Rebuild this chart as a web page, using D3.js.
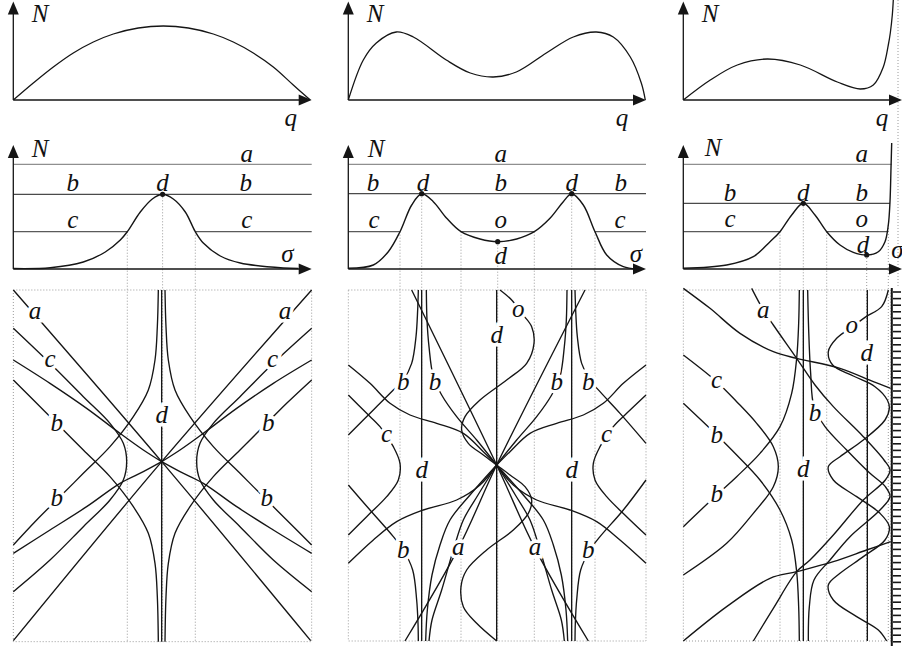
<!DOCTYPE html>
<html>
<head>
<meta charset="utf-8">
<script src="https://d3js.org/d3.v7.min.js"></script>
<style>
  body { margin: 0; background: #fff; }
  svg text { font-family: "Liberation Serif", "DejaVu Serif", serif; font-style: italic; font-size: 25px; fill: #111; }
</style>
</head>
<body>
<svg width="902" height="646"></svg>
<script>
  // ---- top row: N(q), panel units (q from axis corner, N upward) ----
  const topCurve1 = [[0,0],[20,17],[40,33],[60,47],[80,58],[100,66],[125,72],[150,74],[175,72],[200,66],[220,58],[240,47],[260,33],[280,15],[297,0]];
  const topCurve2 = [[0,0],[15,40],[28,57],[48,68],[65,63],[98,40],[122,27],[145,23],[168,28],[198,47],[225,63],[248,68],[265,63],[282,43],[293,17],[297,0]];
  const topCurve3 = [[0,0],[27,20],[54,35],[84,41],[117,35],[154,18],[177,11],[190,15],[200,33],[205,55],[207,67],[209,85],[210,100]];
  const topLabels1 = [["N",26.7,78.3],["q",277.4,-26]];
  const topLabels2 = [["N",26.7,78.3],["q",273.7,-26]];
  const topLabels3 = [["N",26.7,78],["q",198.7,-26]];

  // ---- middle row: N(sigma) with levels a, b, c ----
  const midCurve1 = [[0,0.5],[37,1.3],[70,7],[92,17],[107,29],[114,37.3],[127,57],[139,70],[149.3,74.7],[160,70],[172,57],[182,37.3],[190,26],[207,13],[227,6],[270,1],[285,0.5]];
  const midCurve2 = [[0,0.7],[25,4],[40,17.3],[51.7,37.3],[63.4,64],[73.4,75.3],[85,67.3],[98.4,50.7],[112.7,37.3],[131.7,30],[149.4,27.3],[168.4,30],[186,37.3],[201.7,50.7],[215,67.3],[223.4,75.3],[235,64],[246.7,37.3],[258.4,14],[275,2.3],[288.4,0]];
  const midCurve3 = [[0,0.7],[43.4,4],[70,12.3],[86.7,27.3],[96.7,37.3],[108.4,54],[120,65.7],[131.7,54],[143.4,37.3],[156.7,24],[170,16.7],[183.4,14],[195,17.3],[201.7,27.3],[205,44],[206.7,67.3],[207.7,100.7],[208.4,126]];
  const levels1 = [104.7, 74.7, 37.3];   // a, b, c
  const levels2 = [104.7, 75.3, 37.3];
  const levels3 = [104.7, 65.7, 37.3];
  const levelEnds1 = [298.4, 298.4];
  const levelEnds2 = [297.7, 297.7];
  const levelEnds3 = [208.4, 206.7];
  const cSegments1 = [[0,114],[182,298.4]];
  const cSegments2 = [[0,51.7],[112.7,186],[246.7,297.7]];
  const cSegments3 = [[0,96.7],[143.4,205]];
  const dots1 = [[149.3,74.7]];
  const dots2 = [[73.4,75.3],[223.4,75.3],[149.4,27.3]];
  const dots3 = [[120,65.7],[183.4,14]];
  const drops1 = [[114,37.3],[149.3,74.7],[182,37.3]];
  const drops2 = [[51.7,37.3],[73.4,75.3],[112.7,37.3],[149.4,27.3],[186,37.3],[223.4,75.3],[246.7,37.3]];
  const drops3 = [[96.7,37.3],[120,65.7],[143.4,37.3],[183.4,14],[205,44]];
  const midLabels1 = [["N",26.7,112.3],["a",233.4,107],["b",59.4,78],["d",149.2,78],["b",232.5,78],["c",59.4,41.3],["c",233.4,41.3],["σ",274.2,7.3]];
  const midLabels2 = [["N",27.7,112.3],["a",152.5,107],["b",24.7,78],["d",74.7,78],["b",152.5,78],["d",223.4,78],["b",272.5,78],["c",25.7,41.3],["o",152.5,41.3],["c",271.7,41.3],["d",152.5,4.7],["σ",287.7,7.3]];
  const midLabels3 = [["N",29.7,113],["a",178.4,107.3],["b",46.7,68],["d",120,68],["b",178.4,68],["c",46.7,42.3],["o",178.4,42.3],["d",179.7,16.3],["σ",214,11]];

  // ---- bottom row: trajectories, panel units (s across, t down) ----
  const frame1 = [40, 935, 30, 1085];
  const frame2 = [55, 948, 30, 1083];
  const frame3 = [70, 692, 30, 1083];

  const paths1 = [
    [[485,30],[485,1085]],
    [[40,30],[485,545],[932,1082]],
    [[935,30],[485,545],[40,1082]],
    [[40,300],[110,370],[170,430],[250,510],[330,590],[400,680],[445,760],[465,850],[472,950],[475,1085]],
    [[40,795],[110,720],[170,660],[250,580],[330,500],[400,410],[445,330],[465,240],[472,140],[475,30]],
    [[935,300],[860,370],[800,430],[720,510],[640,590],[570,680],[525,760],[505,850],[498,950],[495,1085]],
    [[935,795],[860,720],[800,660],[720,580],[640,500],[570,410],[525,330],[505,240],[498,140],[495,30]],
    [[40,145],[150,250],[250,350],[330,430],[370,490],[380,545],[370,600],[330,660],[250,740],[150,840],[40,935]],
    [[935,145],[820,250],[720,350],[640,430],[600,490],[590,545],[600,600],[640,660],[720,740],[820,840],[935,935]],
    [[40,240],[150,310],[260,385],[360,460],[430,510],[485,545]],
    [[40,820],[150,750],[260,680],[360,610],[430,575],[485,545]],
    [[935,240],[820,310],[710,385],[610,460],[540,510],[485,545]],
    [[935,820],[820,750],[710,680],[610,610],[540,575],[485,545]]
  ];
  const paths2 = [
    [[275,30],[275,1083]],
    [[500,30],[500,1083]],
    [[725,30],[725,1083]],
    [[245,30],[500,555],[615,805],[775,1083]],
    [[765,30],[500,555],[385,805],[225,1083]],
    [[510,30],[545,60],[575,100],[605,140],[612,190],[590,250],[530,300],[450,360],[405,410],[395,450],[415,490],[460,525],[500,555],[540,585],[585,620],[605,660],[595,700],[550,750],[470,810],[410,870],[393,920],[400,980],[440,1030],[500,1083]],
    [[55,345],[110,400],[150,440],[190,500],[210,550],[205,600],[170,650],[110,710],[55,765]],
    [[948,345],[890,400],[850,440],[810,500],[790,550],[795,600],[830,650],[890,710],[948,765]],
    [[55,465],[130,390],[190,330],[220,300],[245,250],[258,170],[263,90],[265,30]],
    [[55,615],[120,690],[190,770],[220,810],[248,870],[260,960],[264,1030],[265,1083]],
    [[948,490],[870,400],[810,335],[780,300],[755,250],[742,170],[737,90],[735,30]],
    [[948,600],[880,690],[810,770],[780,810],[752,870],[740,960],[736,1030],[735,1083]],
    [[500,555],[440,480],[380,410],[335,345],[310,290],[297,200],[291,120],[289,30]],
    [[500,555],[560,480],[620,410],[665,345],[690,290],[703,200],[709,120],[711,30]],
    [[500,555],[420,645],[360,720],[330,795],[306,885],[292,990],[287,1083]],
    [[500,555],[444,645],[400,720],[370,810],[335,930],[306,1020],[297,1083]],
    [[500,555],[580,645],[640,720],[670,795],[694,885],[708,990],[713,1083]],
    [[500,555],[556,645],[600,720],[630,810],[665,930],[694,1020],[703,1083]],
    [[55,255],[120,310],[180,370],[240,405],[320,430],[400,460],[460,515],[500,555]],
    [[55,850],[130,780],[200,725],[280,690],[380,660],[450,615],[500,555]],
    [[948,255],[880,310],[820,370],[760,405],[680,430],[600,460],[540,515],[500,555]],
    [[948,850],[870,780],[800,725],[720,690],[620,660],[550,615],[500,555]]
  ];
  const paths3 = [
    [[430,30],[430,1083]],
    [[622,30],[622,1083]],
    [[70,25],[150,85],[240,160],[340,215],[410,235],[540,265],[640,305],[692,325]],
    [[275,25],[310,90],[340,135],[410,235],[465,315],[520,380],[610,470],[672,540],[690,570],[676,600],[610,660],[520,765],[450,840],[410,875],[340,985],[280,1083]],
    [[443,30],[446,150],[452,280],[462,380],[495,440],[560,510],[630,580],[676,620],[690,650],[660,690],[570,770],[510,840],[462,900],[448,980],[445,1083]],
    [[70,225],[170,305],[230,365],[290,430],[340,500],[355,560],[340,620],[280,700],[200,790],[70,885]],
    [[70,370],[170,465],[230,525],[300,600],[360,690],[395,780],[410,875],[416,980],[418,1083]],
    [[70,740],[170,645],[230,590],[300,520],[360,440],[395,340],[410,235],[416,130],[418,30]],
    [[70,1083],[200,980],[330,895],[410,875],[520,845],[620,810],[692,785]],
    [[685,30],[665,80],[615,112],[578,140],[530,175],[505,215],[518,255],[580,288],[645,320],[682,360],[688,385],[675,420],[610,480],[540,530],[505,560],[520,600],[590,650],[660,700],[688,740],[675,780],[610,830],[540,880],[505,915],[520,960],[590,1010],[655,1050],[680,1083]]
  ];
  const botLabels1 = [["a",105,116],["a",855,116],["c",150,261],["c",818,261],["b",170,454],["b",805,454],["b",170,679],["b",800,679],["d",485,429]];
  const botLabels2 = [["o",565,111],["d",500,189],["b",220,329],["b",315,329],["b",680,329],["b",775,329],["c",170,486],["c",830,486],["d",275,594],["d",725,594],["b",220,834],["a",385,826],["a",615,826],["b",775,834]];
  const botLabels3 = [["a",310,113],["o",575,158],["d",620,242],["c",170,323],["b",465,424],["b",170,489],["d",430,592],["b",170,666]];

  // ---- layout ----
  const svg = d3.select("svg");
  const ink = "#151515";
  const colX = [13.3, 348.3, 683.3];
  const axisTip = [311.7, 646, 902];

  const panels = [
    { top: topCurve1, topLab: topLabels1, mid: midCurve1, lev: levels1, ends: levelEnds1, cseg: cSegments1, dots: dots1, drops: drops1, midLab: midLabels1, frame: frame1, paths: paths1, botLab: botLabels1 },
    { top: topCurve2, topLab: topLabels2, mid: midCurve2, lev: levels2, ends: levelEnds2, cseg: cSegments2, dots: dots2, drops: drops2, midLab: midLabels2, frame: frame2, paths: paths2, botLab: botLabels2 },
    { top: topCurve3, topLab: topLabels3, mid: midCurve3, lev: levels3, ends: levelEnds3, cseg: cSegments3, dots: dots3, drops: drops3, midLab: midLabels3, frame: frame3, paths: paths3, botLab: botLabels3 }
  ];

  function arrowAxes(g, x0, y0, xTip, yTip) {
    g.append("line").attr("x1", x0).attr("y1", y0).attr("x2", xTip - 8).attr("y2", y0)
      .attr("stroke", ink).attr("stroke-width", 1.3);
    g.append("line").attr("x1", x0).attr("y1", y0).attr("x2", x0).attr("y2", yTip + 8)
      .attr("stroke", ink).attr("stroke-width", 1.3);
    g.append("path").attr("d", `M${xTip},${y0}L${xTip - 13},${y0 - 5.5}L${xTip - 13},${y0 + 5.5}Z`).attr("fill", ink);
    g.append("path").attr("d", `M${x0},${yTip}L${x0 - 5.5},${yTip + 13}L${x0 + 5.5},${yTip + 13}Z`).attr("fill", ink);
  }

  const dotted = sel => sel.attr("stroke", "#9a9a9a").attr("stroke-width", 1).attr("stroke-dasharray", "1,2");

  panels.forEach((p, i) => {
    const g = svg.append("g");
    const x0 = colX[i];

    // top
    const xt = d3.scaleLinear().domain([0, 300]).range([x0, x0 + 300]);
    const yt = d3.scaleLinear().domain([0, 100]).range([100, 0]);
    const lineT = d3.line().x(d => xt(d[0])).y(d => yt(d[1])).curve(d3.curveCatmullRom.alpha(0.5));

    // middle
    const xm = d3.scaleLinear().domain([0, 300]).range([x0, x0 + 300]);
    const ym = d3.scaleLinear().domain([0, 124]).range([269, 145]);
    const lineM = d3.line().x(d => xm(d[0])).y(d => ym(d[1])).curve(d3.curveCatmullRom.alpha(0.5));

    // bottom
    const xb = d3.scaleLinear().domain([0, 990]).range([i * 330, i * 330 + 330]);
    const yb = d3.scaleLinear().domain([0, 1110]).range([280, 650]);
    const lineB = d3.line().x(d => xb(d[0])).y(d => yb(d[1])).curve(d3.curveCatmullRom.alpha(0.5));

    // dotted guides
    const [fl, fr, ft, fbm] = p.frame;
    g.append("rect").attr("x", xb(fl)).attr("y", yb(ft))
      .attr("width", xb(fr) - xb(fl)).attr("height", yb(fbm) - yb(ft))
      .attr("fill", "none").call(dotted);
    g.selectAll(".drop").data(p.drops).enter().append("line")
      .attr("x1", d => xm(d[0])).attr("x2", d => xm(d[0]))
      .attr("y1", d => ym(d[1])).attr("y2", yb(fbm))
      .call(dotted);
    if (i === 2) {
      g.append("line").attr("x1", 898).attr("x2", 898).attr("y1", 0).attr("y2", 288).call(dotted);
    }

    // top panel
    arrowAxes(g, x0, 100, axisTip[i], 1.5);
    g.append("path").attr("d", lineT(p.top)).attr("fill", "none").attr("stroke", ink).attr("stroke-width", 1.3);
    g.selectAll(".tl").data(p.topLab).enter().append("text")
      .attr("x", d => xt(d[1])).attr("y", d => yt(d[2])).attr("text-anchor", "middle").text(d => d[0]);

    // middle panel level lines
    const levColors = ["#8f8f8f", "#4a4a4a", "#5a5a5a"];
    [0, 1].forEach(k => {
      g.append("line").attr("x1", xm(0)).attr("x2", xm(p.ends[k]))
        .attr("y1", ym(p.lev[k])).attr("y2", ym(p.lev[k]))
        .attr("stroke", levColors[k]).attr("stroke-width", 1.2);
    });
    g.selectAll(".cs").data(p.cseg).enter().append("line")
      .attr("x1", d => xm(d[0])).attr("x2", d => xm(d[1]))
      .attr("y1", ym(p.lev[2])).attr("y2", ym(p.lev[2]))
      .attr("stroke", levColors[2]).attr("stroke-width", 1.2);
    arrowAxes(g, x0, 269, axisTip[i], 145);
    g.append("path").attr("d", lineM(p.mid)).attr("fill", "none").attr("stroke", ink).attr("stroke-width", 1.4);
    g.selectAll(".dot").data(p.dots).enter().append("circle")
      .attr("cx", d => xm(d[0])).attr("cy", d => ym(d[1])).attr("r", 2.6).attr("fill", ink);
    g.selectAll(".ml").data(p.midLab).enter().append("text")
      .attr("x", d => xm(d[1])).attr("y", d => ym(d[2])).attr("text-anchor", "middle").text(d => d[0]);

    // bottom panel
    g.selectAll(".traj").data(p.paths).enter().append("path")
      .attr("d", d => lineB(d)).attr("fill", "none").attr("stroke", ink).attr("stroke-width", 1.35);
    g.selectAll(".bl").data(p.botLab).enter().append("text")
      .attr("x", d => xb(d[1])).attr("y", d => yb(d[2])).attr("text-anchor", "middle")
      .attr("stroke", "#fff").attr("stroke-width", 7).attr("paint-order", "stroke")
      .text(d => d[0]);
  });

  // ruler at the right edge of the third bottom panel
  const ruler = svg.append("g");
  ruler.append("line").attr("x1", 891.8).attr("x2", 891.8).attr("y1", 288).attr("y2", 646)
    .attr("stroke", ink).attr("stroke-width", 2);
  ruler.selectAll("line.tick").data(d3.range(292, 646, 6.6)).enter().append("line")
    .attr("class", "tick").attr("x1", 893).attr("x2", 901).attr("y1", d => d).attr("y2", d => d)
    .attr("stroke", ink).attr("stroke-width", 1.6);
</script>
</body>
</html>
